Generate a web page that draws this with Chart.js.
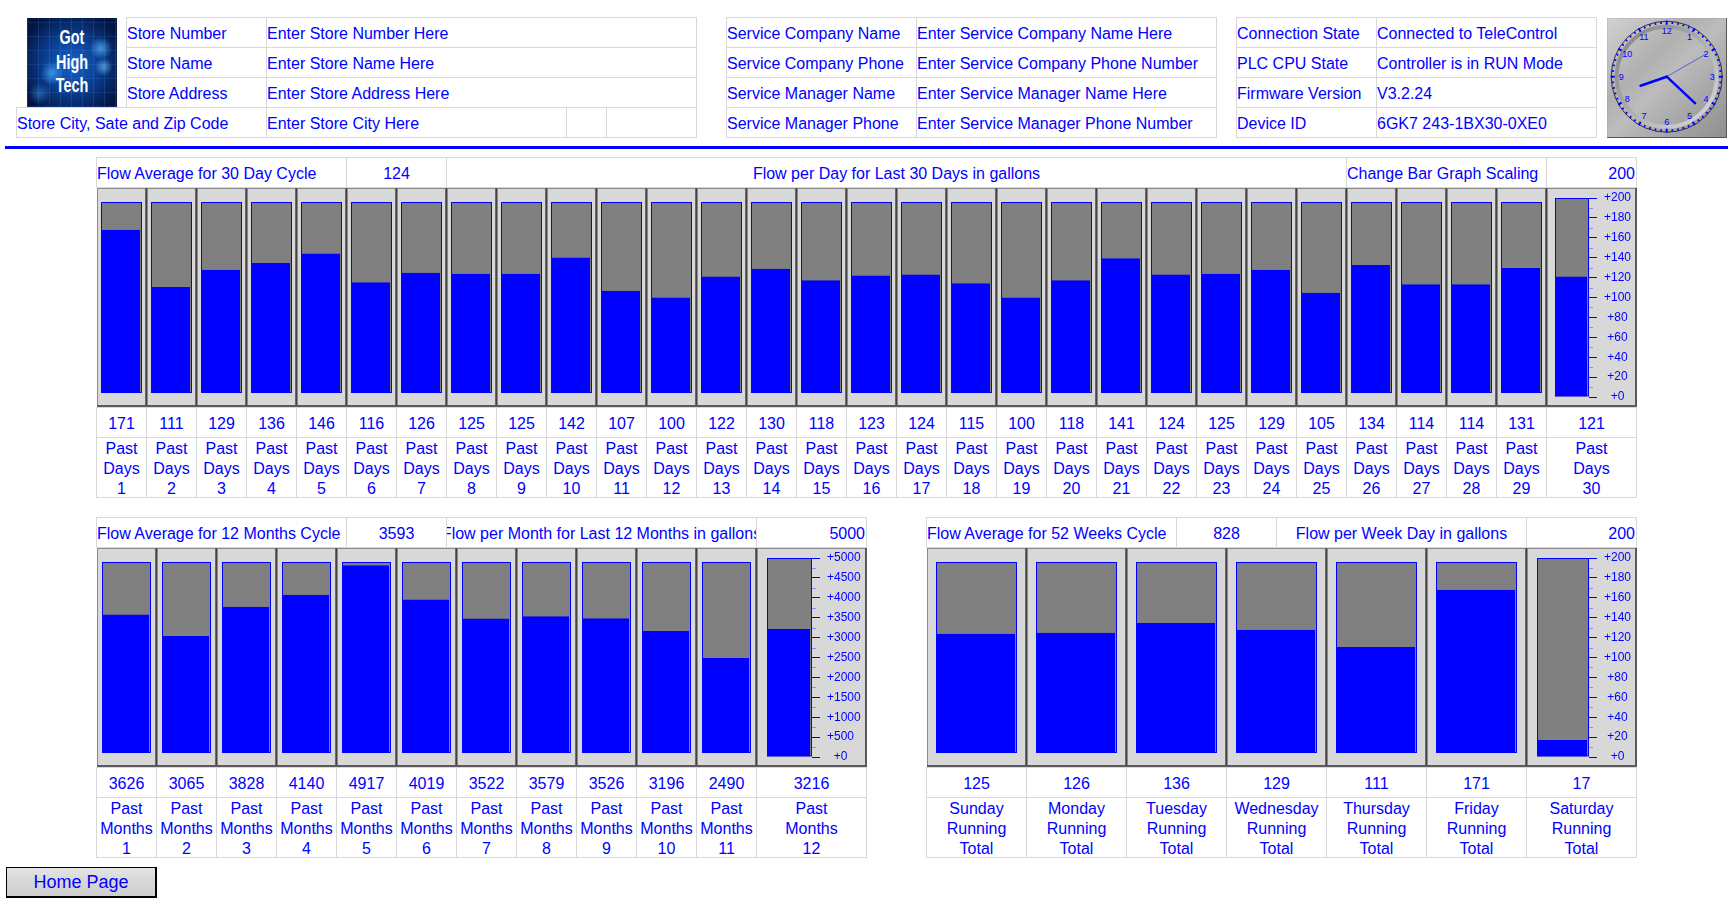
<!DOCTYPE html>
<html>
<head>
<meta charset="utf-8">
<title>Flow Dashboard</title>
<script src="https://cdn.jsdelivr.net/npm/chart.js@4"></script>
<style>
  html, body { margin: 0; padding: 0; background: #fff; }
  body { width: 1733px; height: 904px; overflow: hidden; position: relative; font-family: "Liberation Sans", Arial, sans-serif; font-size: 16px; color: #0000ff; }
  .cell { position: absolute; box-sizing: border-box; border: 1px solid #d8d8d8; display: flex; align-items: center; justify-content: center; text-align: center; white-space: nowrap; overflow: hidden; line-height: 20px; }
  .cell span { position: relative; top: 1px; flex: none; }
  .cell.left { justify-content: flex-start; text-align: left; }
  .cell.right { justify-content: flex-end; padding-right: 1px; text-align: right; }
  .panelBack { position: absolute; background: #d8d8d8; border-top: 1px solid #8a8a8a; border-left: 1px solid #8a8a8a; box-sizing: border-box; }
  .sep { position: absolute; width: 3px; background: linear-gradient(90deg, #6a6a6a 0 33%, #444 33% 66%, #8a8a8a 66%); }
  canvas { position: absolute; display: block; }
  #rule { position: absolute; left: 5px; top: 146px; width: 1723px; height: 3px; background: #0000ff; }
  #logo { position: absolute; left: 27px; top: 18px; width: 90px; height: 89px; overflow: hidden;
    background:
      radial-gradient(circle at 28% 62%, rgba(70,170,255,.75) 0, rgba(70,170,255,0) 14%),
      radial-gradient(circle at 82% 34%, rgba(90,190,255,.7) 0, rgba(90,190,255,0) 12%),
      radial-gradient(circle at 85% 55%, rgba(120,210,255,.6) 0, rgba(120,210,255,0) 10%),
      radial-gradient(circle at 14% 85%, rgba(60,150,240,.5) 0, rgba(60,150,240,0) 10%),
      repeating-linear-gradient(90deg, rgba(90,170,255,.16) 0 1px, rgba(0,0,0,0) 1px 11px),
      repeating-linear-gradient(0deg, rgba(90,170,255,.12) 0 1px, rgba(0,0,0,0) 1px 14px),
      radial-gradient(ellipse at 50% 52%, #1464c8 0, #0b3f92 42%, #04143f 85%); }
  #logo div { position: absolute; left: 0; width: 100%; text-align: center; color: #fff; font-weight: bold; font-size: 20px; line-height: 20px; transform: scaleX(.72); }
  #home { position: absolute; left: 6px; top: 867px; width: 151px; height: 31px; box-sizing: border-box; border: 1px solid #000; border-right-width: 2px; border-bottom-width: 2px;
    background: linear-gradient(#e4e4e4, #d8d8d8 45%, #cfcfcf); display: flex; align-items: center; justify-content: center; font-size: 18px; }
  #clock { position: absolute; left: 1607px; top: 18px; }
</style>
</head>
<body>
<div id="rule"></div>
<div id="logo"><div style="top:9px">Got</div><div style="top:34px">High</div><div style="top:57px">Tech</div></div>
<svg id="clock" width="120" height="120" viewBox="0 0 120 120" font-family="Liberation Sans" font-size="9" fill="#0000ff"></svg>
<div id="home">Home Page</div>
<script>
// header tables
const storeLabels = ['Store Number', 'Store Name', 'Store Address', 'Store City, Sate and Zip Code'];
const storeValues = ['Enter Store Number Here', 'Enter Store Name Here', 'Enter Store Address Here', 'Enter Store City Here'];
const serviceLabels = ['Service Company Name', 'Service Company Phone', 'Service Manager Name', 'Service Manager Phone'];
const serviceValues = ['Enter Service Company Name Here', 'Enter Service Company Phone Number', 'Enter Service Manager Name Here', 'Enter Service Manager Phone Number'];
const statusLabels = ['Connection State', 'PLC CPU State', 'Firmware Version', 'Device ID'];
const statusValues = ['Connected to TeleControl', 'Controller is in RUN Mode', 'V3.2.24', '6GK7 243-1BX30-0XE0'];

// bar graphs
const dayValues = [171, 111, 129, 136, 146, 116, 126, 125, 125, 142, 107, 100, 122, 130, 118, 123, 124, 115, 100, 118, 141, 124, 125, 129, 105, 134, 114, 114, 131, 121];
const dayCategories = dayValues.map((v, i) => 'Past Days ' + (i + 1));
const dayTicks = [0, 20, 40, 60, 80, 100, 120, 140, 160, 180, 200];

const monthValues = [3626, 3065, 3828, 4140, 4917, 4019, 3522, 3579, 3526, 3196, 2490, 3216];
const monthCategories = monthValues.map((v, i) => 'Past Months ' + (i + 1));
const monthTicks = [0, 500, 1000, 1500, 2000, 2500, 3000, 3500, 4000, 4500, 5000];

const weekValues = [125, 126, 136, 129, 111, 171, 17];
const weekCategories = ['Sunday Running Total', 'Monday Running Total', 'Tuesday Running Total', 'Wednesday Running Total', 'Thursday Running Total', 'Friday Running Total', 'Saturday Running Total'];
const weekTicks = [0, 20, 40, 60, 80, 100, 120, 140, 160, 180, 200];

const clockTime = [8, 22, 10];

function cell(x0, x1, y0, y1, text, cls) {
  const d = document.createElement('div');
  d.className = 'cell' + (cls ? ' ' + cls : '');
  d.style.cssText = `left:${x0}px;top:${y0}px;width:${x1 - x0 + 1}px;height:${y1 - y0 + 1}px`;
  const s = document.createElement('span');
  s.innerHTML = text;
  d.appendChild(s);
  document.body.appendChild(d);
}

function infoTable(x0, x1, x2, labels, values) {
  labels.forEach((label, i) => {
    const y = 17 + i * 30;
    cell(x0, x1, y, y + 30, label, 'left');
    cell(x1, x2, y, y + 30, values[i], 'left');
  });
}

infoTable(126, 266, 696, storeLabels.slice(0, 3), storeValues);
cell(16, 266, 107, 137, storeLabels[3], 'left');
cell(266, 566, 107, 137, storeValues[3], 'left');
cell(566, 606, 107, 137, '');
cell(606, 696, 107, 137, '');
infoTable(726, 916, 1216, serviceLabels, serviceValues);
infoTable(1236, 1376, 1596, statusLabels, statusValues);

// minor tick marks halfway between the labelled ones
const minorTicks = {
  id: 'minorTicks',
  afterDraw(chart) {
    const y = chart.scales.y;
    if (!y.options.display) return;
    const ctx = chart.ctx;
    const ticks = y.ticks.map(t => t.value).sort((a, b) => a - b);
    ctx.save();
    ctx.fillStyle = '#8c8cff';
    for (let i = 0; i < ticks.length - 1; i++) {
      const py = Math.round(y.getPixelForValue((ticks[i] + ticks[i + 1]) / 2));
      ctx.fillRect(y.left, py, 4, 1);
    }
    ctx.restore();
  }
};

function barDatasets(labels, values, max, thickness) {
  const full = values.map(() => max);
  const common = { barThickness: thickness, borderSkipped: false, inflateAmount: 0, clip: false };
  return {
    labels: labels,
    datasets: [
      { ...common, label: 'Range', data: full, backgroundColor: '#808080', borderWidth: 0, order: 3 },
      { ...common, label: 'Flow', data: values, backgroundColor: '#0000ff', borderColor: '#808080', borderWidth: { right: 2 }, order: 2 },
      { ...common, label: 'Frame', data: full, backgroundColor: 'rgba(0,0,0,0)', borderColor: '#0000ff', borderWidth: 1, order: 1 }
    ]
  };
}

function addCanvas(x, y, w, h) {
  const c = document.createElement('canvas');
  c.width = w;
  c.height = h;
  c.style.cssText = `left:${x}px;top:${y}px;width:${w}px;height:${h}px`;
  document.body.appendChild(c);
  return c;
}

const baseOptions = {
  responsive: false,
  animation: false,
  devicePixelRatio: 1,
  plugins: { legend: { display: false }, tooltip: { enabled: false } }
};

function barPanel(p) {
  const n = p.values.length - 1;
  const lastX = p.x + p.pitch * n;
  const max = p.ticks[p.ticks.length - 1];

  // header row
  p.header.forEach(h => cell(h[0], h[1], p.top - 31, p.top - 1, h[2], h[3]));

  // grey background and separators
  const back = document.createElement('div');
  back.className = 'panelBack';
  back.style.cssText = `left:${p.x + 1}px;top:${p.top}px;width:${p.right - p.x}px;height:${p.h}px`;
  document.body.appendChild(back);
  for (let i = 1; i <= n; i++) {
    const s = document.createElement('div');
    s.className = 'sep';
    s.style.cssText = `left:${p.x + p.pitch * i - 1}px;top:${p.top}px;height:${p.h}px`;
    document.body.appendChild(s);
  }
  const bottom = document.createElement('div');
  bottom.style.cssText = `position:absolute;left:${p.x + 1}px;top:${p.top + p.h - 2}px;width:${p.right - p.x}px;height:2px;background:#5a5a5a`;
  document.body.appendChild(bottom);
  const side = document.createElement('div');
  side.style.cssText = `position:absolute;left:${p.right - 1}px;top:${p.top}px;width:2px;height:${p.h}px;background:#5a5a5a`;
  document.body.appendChild(side);

  // value and category rows
  for (let i = 0; i <= n; i++) {
    const x0 = p.x + p.pitch * i;
    const x1 = i === n ? p.right : x0 + p.pitch;
    cell(x0, x1, p.top + p.h, p.top + p.h + 30, p.values[i]);
    cell(x0, x1, p.top + p.h + 30, p.top + p.h + 90, p.categories[i].split(' ').join('<br>'));
  }

  // the fixed bars
  new Chart(addCanvas(p.x, p.top, p.pitch * n + 1, p.h), {
    type: 'bar',
    data: barDatasets(p.categories.slice(0, n), p.values.slice(0, n), max, p.thickness),
    options: {
      ...baseOptions,
      layout: { padding: { left: 0.5, right: 0.5, top: 14, bottom: p.h - 205 } },
      datasets: { bar: { grouped: false } },
      scales: {
        x: { display: false },
        y: { display: false, min: 0, max: max }
      }
    }
  });

  // the last bar carries the scale
  const canvasW = p.right - lastX;
  new Chart(addCanvas(lastX, p.top, canvasW, p.h), {
    type: 'bar',
    data: barDatasets(p.categories.slice(n), p.values.slice(n), max, p.scaleRight - p.scaleLeft),
    options: {
      ...baseOptions,
      layout: { padding: { left: p.scaleLeft - lastX, right: 0, top: 10, bottom: p.h - 209 } },
      datasets: { bar: { grouped: false } },
      scales: {
        x: { display: false },
        y: {
          position: 'right',
          min: 0,
          max: max,
          border: { display: false },
          grid: { drawOnChartArea: false, drawTicks: true, tickLength: 8, tickColor: '#0000ff', tickWidth: 1 },
          afterBuildTicks(axis) { axis.ticks = p.ticks.map(v => ({ value: v })); },
          afterFit(axis) {
            axis.width = p.right - p.scaleRight;
            axis.paddingTop = 0;
            axis.paddingBottom = 0;
          },
          ticks: {
            autoSkip: false,
            padding: 7,
            color: '#0000ff',
            crossAlign: p.tickAlign,
            font: { family: 'Liberation Sans', size: 12 },
            callback: p.tickText
          }
        }
      }
    },
    plugins: [minorTicks]
  });
}

barPanel({
  x: 96, right: 1636, top: 188, h: 219, pitch: 50, thickness: 41,
  scaleLeft: 1555, scaleRight: 1589, tickAlign: 'center',
  values: dayValues, categories: dayCategories, ticks: dayTicks,
  tickText: v => '+' + v,
  header: [
    [96, 346, 'Flow Average for 30 Day Cycle', 'left'],
    [346, 446, '124'],
    [446, 1346, 'Flow per Day for Last 30 Days in gallons'],
    [1346, 1546, 'Change Bar Graph Scaling', 'left'],
    [1546, 1636, '200', 'right']
  ]
});

barPanel({
  x: 96, right: 866, top: 548, h: 219, pitch: 60, thickness: 49,
  scaleLeft: 767, scaleRight: 812, tickAlign: 'near',
  values: monthValues, categories: monthCategories, ticks: monthTicks,
  tickText: v => (v === 0 ? '  +0' : '+' + v),
  header: [
    [96, 346, 'Flow Average for 12 Months Cycle', 'left'],
    [346, 446, '3593'],
    [446, 756, 'Flow per Month for Last 12 Months in gallons'],
    [756, 866, '5000', 'right']
  ]
});

barPanel({
  x: 926, right: 1636, top: 548, h: 219, pitch: 100, thickness: 81,
  scaleLeft: 1537, scaleRight: 1589, tickAlign: 'center',
  values: weekValues, categories: weekCategories, ticks: weekTicks,
  tickText: v => '+' + v,
  header: [
    [926, 1176, 'Flow Average for 52 Weeks Cycle', 'left'],
    [1176, 1276, '828'],
    [1276, 1526, 'Flow per Week Day in gallons'],
    [1526, 1636, '200', 'right']
  ]
});

// analog clock
(function () {
  const svg = document.getElementById('clock');
  const cx = 59.7, cy = 58.7;
  let s = `<defs>
    <linearGradient id="face" x1="0" y1="0" x2="1" y2="1"><stop offset="0" stop-color="#d2d2d2"/><stop offset=".35" stop-color="#b0b0b0"/><stop offset=".5" stop-color="#bcbcbc"/><stop offset="1" stop-color="#8e8e8e"/></linearGradient>
    <linearGradient id="ring" x1="0" y1="0" x2="1" y2="1"><stop offset="0" stop-color="#808080"/><stop offset="1" stop-color="#dcdcdc"/></linearGradient>
  </defs>
  <rect x="0" y="0" width="120" height="120" fill="url(#face)"/>
  <path d="M119.5 0V119.5H0" fill="none" stroke="#555"/>
  <path d="M0 120V0H120" fill="none" stroke="#999" stroke-width=".5"/>
  <circle cx="${cx}" cy="${cy}" r="55.5" fill="none" stroke="#333" stroke-width="1"/>
  <circle cx="${cx}" cy="${cy}" r="50" fill="none" stroke="url(#ring)" stroke-width="4"/>`;
  for (let i = 0; i < 60; i++) {
    const a = i * 6 * Math.PI / 180;
    const r0 = i % 5 === 0 ? 52 : 53;
    const r1 = i % 5 === 0 ? 56 : 55;
    s += `<line x1="${cx + r0 * Math.sin(a)}" y1="${cy - r0 * Math.cos(a)}" x2="${cx + r1 * Math.sin(a)}" y2="${cy - r1 * Math.cos(a)}" stroke="#0000ff" stroke-width="${i % 5 === 0 ? 2 : 1.7}"/>`;
  }
  for (let h = 1; h <= 12; h++) {
    const a = h * 30 * Math.PI / 180;
    s += `<text x="${cx + 45.5 * Math.sin(a)}" y="${cy - 45.5 * Math.cos(a) + 3}" text-anchor="middle">${h}</text>`;
  }
  const hand = (deg, len, w) => {
    const a = deg * Math.PI / 180;
    return `<line x1="${cx}" y1="${cy}" x2="${cx + len * Math.sin(a)}" y2="${cy - len * Math.cos(a)}" stroke="#0000ff" stroke-width="${w}" stroke-linecap="round"/>`;
  };
  s += hand(clockTime[2] * 6, 45, 0.5);
  s += hand(clockTime[1] * 6 + clockTime[2] / 10, 39, 2.4);
  s += hand((clockTime[0] + clockTime[1] / 60) * 30, 27.6, 2.6);
  svg.innerHTML = s;
})();
</script>
</body>
</html>
